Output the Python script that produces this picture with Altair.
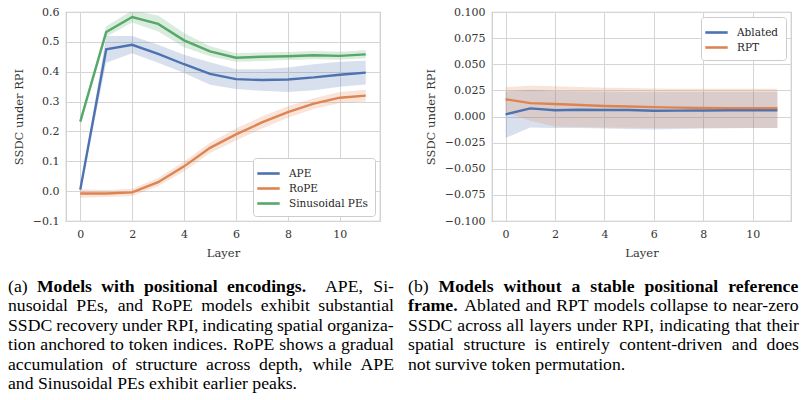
import altair as alt
import pandas as pd

# ---------------- data ----------------
layers = list(range(12))

# panel (a)
ape_mean = [0.005, 0.475, 0.490, 0.460, 0.425, 0.393, 0.375, 0.372, 0.374, 0.381, 0.390, 0.397]
ape_lo = [0.000, 0.430, 0.462, 0.430, 0.396, 0.356, 0.342, 0.336, 0.332, 0.338, 0.350, 0.357]
ape_hi = [0.010, 0.520, 0.520, 0.490, 0.457, 0.432, 0.408, 0.408, 0.414, 0.425, 0.433, 0.437]

rope_mean = [-0.008, -0.008, -0.004, 0.030, 0.083, 0.145, 0.190, 0.230, 0.265, 0.293, 0.313, 0.320]
rope_lo = [-0.022, -0.020, -0.016, 0.016, 0.067, 0.128, 0.170, 0.210, 0.246, 0.275, 0.295, 0.300]
rope_hi = [0.006, 0.004, 0.008, 0.044, 0.099, 0.162, 0.210, 0.250, 0.284, 0.311, 0.332, 0.340]

sin_mean = [0.233, 0.533, 0.583, 0.560, 0.505, 0.468, 0.447, 0.450, 0.452, 0.455, 0.453, 0.458]
sin_lo = [0.222, 0.517, 0.565, 0.535, 0.482, 0.452, 0.433, 0.436, 0.439, 0.442, 0.440, 0.445]
sin_hi = [0.245, 0.552, 0.605, 0.588, 0.530, 0.485, 0.462, 0.464, 0.466, 0.469, 0.467, 0.472]

# panel (b)
abl_mean = [0.0020, 0.0078, 0.0060, 0.0065, 0.0062, 0.0062, 0.0055, 0.0056, 0.0058, 0.0060, 0.0060, 0.0060]
abl_lo = [-0.0205, -0.0105, -0.0110, -0.0110, -0.0115, -0.0120, -0.0125, -0.0120, -0.0115, -0.0112, -0.0110, -0.0110]
abl_hi = [0.0240, 0.0255, 0.0245, 0.0242, 0.0240, 0.0238, 0.0236, 0.0236, 0.0236, 0.0236, 0.0236, 0.0236]

rpt_mean = [0.0165, 0.0128, 0.0120, 0.0110, 0.0100, 0.0095, 0.0090, 0.0085, 0.0082, 0.0080, 0.0080, 0.0080]
rpt_lo = [0.0040, -0.0040, -0.0095, -0.0100, -0.0105, -0.0108, -0.0110, -0.0110, -0.0110, -0.0110, -0.0110, -0.0110]
rpt_hi = [0.0280, 0.0295, 0.0290, 0.0282, 0.0275, 0.0272, 0.0268, 0.0266, 0.0265, 0.0265, 0.0265, 0.0265]

names_a = ["APE", "RoPE", "Sinusoidal PEs"]
names_b = ["Ablated", "RPT"]
colors_a = ["#4C72B0", "#DD8452", "#55A868"]
colors_b = ["#4C72B0", "#DD8452"]

x_ticks = [0, 2, 4, 6, 8, 10]
y_ticks_a = [-0.1, 0.0, 0.1, 0.2, 0.3, 0.4, 0.5, 0.6]
y_ticks_b = [-0.1, -0.075, -0.05, -0.025, 0.0, 0.025, 0.05, 0.075, 0.1]

caption_a = [
    [("(a)", False), ("Models with positional encodings.", True), ("APE, Si-", False)],
    [("nusoidal PEs, and RoPE models exhibit substantial", False)],
    [("SSDC recovery under RPI, indicating spatial organiza-", False)],
    [("tion anchored to token indices. RoPE shows a gradual", False)],
    [("accumulation of structure across depth, while APE", False)],
    [("and Sinusoidal PEs exhibit earlier peaks.", False)],
]
caption_b = [
    [("(b)", False), ("Models without a stable positional reference", True)],
    [("frame.", True), ("Ablated and RPT models collapse to near-zero", False)],
    [("SSDC across all layers under RPI, indicating that their", False)],
    [("spatial structure is entirely content-driven and does", False)],
    [("not survive token permutation.", False)],
]

# ---------------- helpers ----------------
TR = {' ': 250, '(': 333, ')': 333, ',': 250, '-': 333, '.': 250,
      'a': 444, 'b': 500, 'c': 444, 'd': 500, 'e': 444, 'f': 333, 'g': 500, 'h': 500,
      'i': 278, 'j': 278, 'k': 500, 'l': 278, 'm': 778, 'n': 500, 'o': 500, 'p': 500,
      'q': 500, 'r': 333, 's': 389, 't': 278, 'u': 500, 'v': 500, 'w': 722, 'x': 500,
      'y': 500, 'z': 444, 'A': 722, 'B': 667, 'C': 667, 'D': 722, 'E': 611, 'F': 556,
      'G': 722, 'H': 722, 'I': 333, 'J': 389, 'K': 722, 'L': 611, 'M': 889, 'N': 722,
      'O': 722, 'P': 556, 'Q': 722, 'R': 667, 'S': 556, 'T': 611, 'U': 722, 'V': 722,
      'W': 944, 'X': 722, 'Y': 722, 'Z': 611}
TB = dict(TR)
TB.update({'a': 500, 'b': 556, 'd': 556, 'h': 556, 'j': 333, 'k': 556, 'm': 833, 'n': 556,
           'p': 556, 'q': 556, 'r': 444, 't': 333, 'u': 556, 'f': 333, 'M': 944})

CAP_SIZE = 17.7
CAP_LEAD = 19.4


def word_w(w, bold):
    t = TB if bold else TR
    return sum(t.get(c, 500) for c in w) * CAP_SIZE / 1000.0


def caption_table(lines, x0, y0, target):
    rows = []
    sp = 250 * CAP_SIZE / 1000.0
    for i, segs in enumerate(lines):
        words = []
        for txt, bold in segs:
            for w in txt.split(" "):
                words.append((w, bold))
        widths = [word_w(w, b) for w, b in words]
        last = i == len(lines) - 1
        weights = []
        for w, b in words[:-1]:
            if w.endswith("."):
                weights.append(3.0)
            elif w.endswith(","):
                weights.append(1.25)
            else:
                weights.append(1.0)
        gaps = [sp] * len(weights)
        if not last and weights:
            extra = target - sum(widths) - sp * len(weights)
            unit = extra / sum(weights)
            gaps = [sp + unit * k for k in weights]
        x = x0
        for j, ((w, b), wd) in enumerate(zip(words, widths)):
            rows.append({"px": x, "py": y0 + i * CAP_LEAD, "w": w, "bold": b})
            if j < len(gaps):
                x += wd + gaps[j]
    return pd.DataFrame(rows)


def long_df(names, means, los, his):
    rows = []
    for n, m, lo, hi in zip(names, means, los, his):
        for l, a, b, c in zip(layers, m, lo, hi):
            rows.append({"model": n, "layer": l, "mean": a, "lo": b, "hi": c})
    return pd.DataFrame(rows)


FONT = "DejaVu Serif"


def panel(df, names, colors, domain, yticks, fmt, legend_orient, cap_df, w, h):
    xs = alt.Scale(domain=[-0.55, 11.55], nice=False, zero=False)
    ys = alt.Scale(domain=domain, nice=False, zero=False)
    cs = alt.Scale(domain=names, range=colors)
    leg = alt.Legend(
        title=None, orient=legend_orient, offset=5,
        fillColor="white", strokeColor="#cccccc", cornerRadius=3, padding=7,
        labelFont=FONT, labelFontSize=10.5, labelColor="#262626",
        symbolType="M-1.6,0H1.6", symbolStrokeWidth=2.6, symbolSize=196,
        symbolOpacity=1, rowPadding=1, labelOffset=12)
    x = alt.X("layer:Q", scale=xs,
              axis=alt.Axis(values=x_ticks, title="Layer", format="d"))
    yax = alt.Axis(values=yticks, title="SSDC under RPI", format=fmt,
                   labelOverlap=False)
    band = alt.Chart(df).mark_area(opacity=0.22, clip=True).encode(
        x=x,
        y=alt.Y("lo:Q", scale=ys, axis=yax),
        y2="hi:Q",
        color=alt.Color("model:N", scale=cs, legend=leg),
    )
    line = alt.Chart(df).mark_line(strokeWidth=2.4, clip=True).encode(
        x=x,
        y=alt.Y("mean:Q", scale=ys, axis=yax),
        color=alt.Color("model:N", scale=cs, legend=leg),
    )
    reg = alt.Chart(cap_df).transform_filter("!datum.bold").mark_text(
        align="left", baseline="alphabetic", font="Liberation Serif",
        fontSize=CAP_SIZE, color="black").encode(
        x=alt.X("px:Q", scale=None, axis=None), y=alt.Y("py:Q", scale=None, axis=None), text="w:N")
    bld = alt.Chart(cap_df).transform_filter("datum.bold").mark_text(
        align="left", baseline="alphabetic", font="Liberation Serif",
        fontSize=CAP_SIZE, fontWeight="bold", color="black").encode(
        x=alt.X("px:Q", scale=None, axis=None), y=alt.Y("py:Q", scale=None, axis=None), text="w:N")
    return alt.layer(band, line, reg, bld).properties(width=w, height=h)


df_a = long_df(names_a, [ape_mean, rope_mean, sin_mean], [ape_lo, rope_lo, sin_lo], [ape_hi, rope_hi, sin_hi])
df_b = long_df(names_b, [abl_mean, rpt_mean], [abl_lo, rpt_lo], [abl_hi, rpt_hi])

cap_a = caption_table(caption_a, -58, 280, 386)
cap_b = caption_table(caption_b, -84, 280, 391)

left = panel(df_a, names_a, colors_a, [-0.1, 0.6], y_ticks_a, ".1f", "bottom-right", cap_a, 314, 209)
right = panel(df_b, names_b, colors_b, [-0.1, 0.1], y_ticks_b, ".3f", "top-right", cap_b, 299, 209)

chart = alt.hconcat(left, right, spacing=112, bounds="flush").resolve_scale(
    color="independent", x="independent", y="independent"
).resolve_legend(color="independent").configure(
    padding={"left": 7, "top": 5, "right": 0, "bottom": 0},
    background="white",
).configure_view(
    stroke="#cccccc", strokeWidth=1.25,
).configure_axis(
    domain=False, ticks=False, grid=True, gridColor="#d5d5d5", gridWidth=1,
    labelFont=FONT, labelFontSize=11, labelColor="#333333", labelPadding=7,
    labelOverlap=False,
    titleFont=FONT, titleFontSize=11.5, titleFontWeight="normal", titleColor="#333333",
    titlePadding=8,
)

chart.save("out.html", embed_options={"renderer": "svg", "actions": False})
